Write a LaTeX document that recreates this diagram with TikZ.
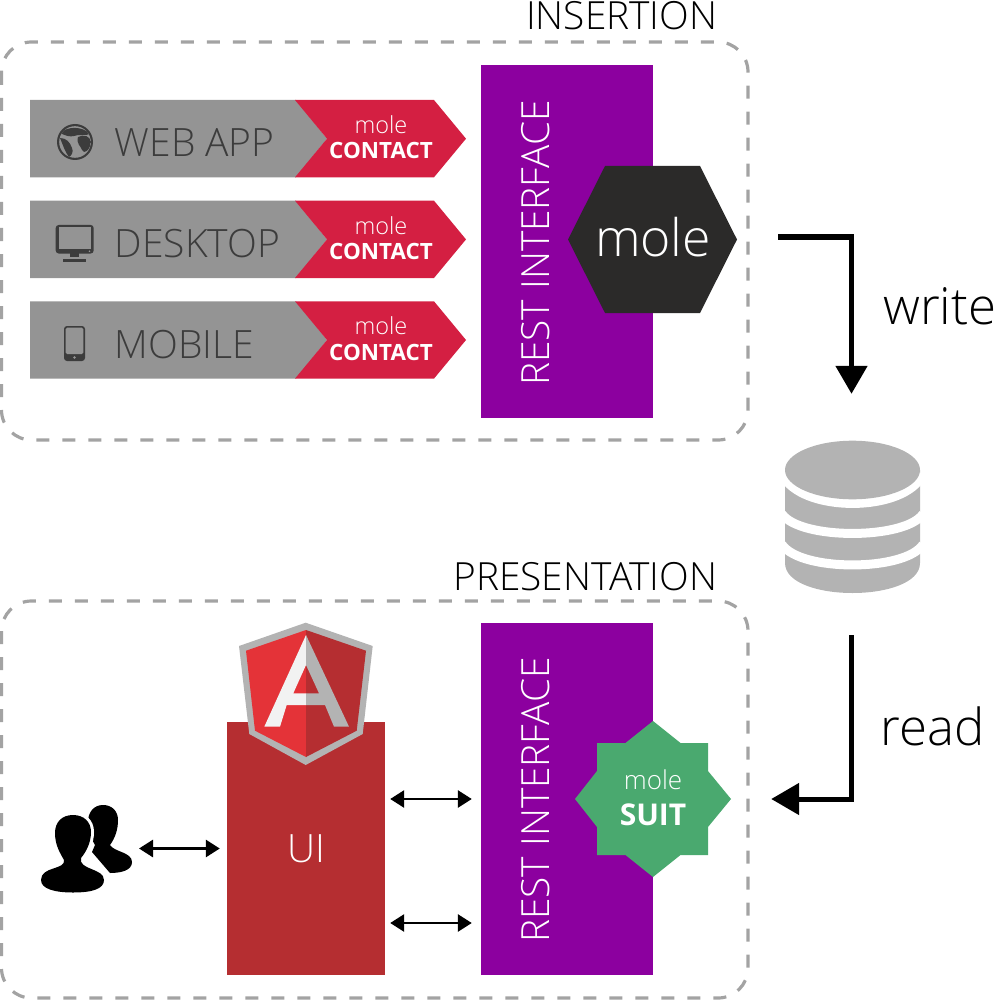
\documentclass[tikz,border=0pt]{standalone}
\usepackage{fontspec}
\setmainfont{Open Sans}[UprightFont=* Light,BoldFont=* Bold]
\usetikzlibrary{arrows.meta,calc}
\definecolor{bargray}{HTML}{949494}
\definecolor{icondark}{HTML}{3C3C3C}
\definecolor{contactred}{HTML}{D41F42}
\definecolor{restpurple}{HTML}{8C009F}
\definecolor{hexblack}{HTML}{2B2A29}
\definecolor{suitgreen}{HTML}{4AA96F}
\definecolor{uired}{HTML}{B52E31}
\definecolor{ngred}{HTML}{E43338}
\definecolor{nggray}{HTML}{B3B3B3}
\definecolor{ngwhite}{HTML}{F2F2F2}
\definecolor{dbgray}{HTML}{B3B3B3}
\definecolor{dashgray}{HTML}{A3A3A3}
\newcommand{\fs}[1]{\fontsize{#1}{#1}\selectfont}
\tikzset{
  panel/.style={draw=dashgray,line width=3.2pt,dash pattern=on 13pt off 13pt,rounded corners=30pt},
  title/.style={anchor=base east,inner sep=0pt,text=black,font=\fs{38.8}},
  barlabel/.style={anchor=base west,inner sep=0pt,text=icondark,font=\fs{39}},
  restbox/.style={fill=restpurple,draw=none,minimum width=172pt,minimum height=352pt,inner sep=0pt},
  resttext/.style={rotate=90,text=white,inner sep=0pt,font=\fs{38.8}},
  contact/.style={align=center,text=white,inner sep=0pt},
  flow/.style={line width=5pt,-{Triangle[length=28pt,width=31pt]}},
  both/.style={line width=2.8pt,{Triangle[length=14pt,width=17pt]}-{Triangle[length=14pt,width=17pt]}},
  flowlabel/.style={anchor=base west,inner sep=0pt,text=black,font=\fs{51}}
}
\begin{document}
\begin{tikzpicture}[x=1pt,y=-1pt]
\useasboundingbox (0,0) rectangle (996,1000);
% panels
\draw[panel] (1.5,42) rectangle (748,440);
\draw[panel] (1.5,601) rectangle (748,998);
\node[title] (t1) at (717.5,30) {INSERTION};
\node[title] (t2) at (717.5,590) {PRESENTATION};
% rows
\foreach \n/\y/\lab/\lx in {a/100/WEB APP/114.5,b/200.7/DESKTOP/114.5,c/301.3/MOBILE/114.5}{
  \fill[bargray] (30,\y) -- (296,\y) -- (327,\y+38.7) -- (296,\y+77.3) -- (30,\y+77.3) -- cycle;
  \fill[contactred] (295,\y) -- (434,\y) -- (466,\y+38.7) -- (434,\y+77.3) -- (295,\y+77.3) -- (327,\y+38.7) -- cycle;
  \node[barlabel] (lab\n) at (\lx,\y+56.8) {\lab};
  \node[contact,anchor=base] (m\n) at (381,\y+33.5) {\fs{23.5}mole};
  \node[contact,anchor=base] (k\n) at (381,\y+59) {\fs{22.4}\textbf{CONTACT}};
}
% globe icon
\fill[icondark] (75,142) circle (18);
\begin{scope}
\clip (75,142) circle (15.8);
\fill[bargray] (58,125) rectangle (92,159);
\fill[icondark] (60,133) .. controls (68,126) and (82,126) .. (90,134) .. controls (86,136) and (78,134) .. (74,136) .. controls (70,137) and (66,136) .. (60,133) -- cycle;
\fill[icondark] (78,137) .. controls (84,134) and (90,136) .. (91,142) .. controls (90,150) and (84,155) .. (82,150) .. controls (81,146) and (76,144) .. (78,137) -- cycle;
\fill[icondark] (60,138) .. controls (66,138) and (70,142) .. (72,148) .. controls (74,152) and (71,156) .. (69,157) .. controls (65,152) and (63,145) .. (60,138) -- cycle;
\end{scope}
% desktop icon
\fill[icondark,rounded corners=3pt] (55.7,225) rectangle (93.7,253.5);
\fill[bargray] (58.5,227.5) rectangle (91,249);
\fill[icondark] (70,253) rectangle (79,257);
\fill[icondark] (63,259) rectangle (86,261.5);
\fill[bargray] (89.5,251.2) circle (0.9);
% mobile icon
\fill[icondark,rounded corners=3pt] (64,326) rectangle (85,361);
\fill[bargray,rounded corners=1.5pt] (65.6,327.7) rectangle (83.4,354);
\fill[bargray] (74.5,357.5) circle (1.3);
% rest upper
\node[restbox] (rest1) at (567,241.5) {};
\node[resttext] (rt1) at (536,243) {REST INTERFACE};
\fill[hexblack] (568,239.5) -- (605,166) -- (700,166) -- (737,239.5) -- (700,313) -- (605,313) -- cycle;
\node[text=white,inner sep=0pt,font=\fs{51.7}] (mole) at (653,237.5) {mole};
% write
\coordinate (wstart) at (778,237);
\node[minimum width=135pt,minimum height=152pt,inner sep=0pt] (db) at (851.5,517) {};
\draw[flow,shorten >=47pt] (wstart) -| (db.north);
\node[flowlabel] (write) at (883,324) {write};
% database
\fill[dbgray] (785,470) -- (785,563) .. controls (785,603) and (920,603) .. (920,563) -- (920,470) -- cycle;
\foreach \c/\r in {474/29.5,514/19.5,544.5/20.5}
  \draw[white,line width=9pt] (782,\c) .. controls (800,\c+\r*1.33) and (905,\c+\r*1.33) .. (923,\c);
\fill[dbgray] (852.5,470) ellipse [x radius=67.5,y radius=29.3];
% read
\node[flowlabel] (read) at (880.5,745) {read};
% lower rest
\node[restbox] (rest2) at (567,799) {};
\node[resttext] (rt2) at (536,800) {REST INTERFACE};
\node[minimum width=156pt,minimum height=156pt,inner sep=0pt] (star) at (653,799) {};
\fill[suitgreen] (653,721) -- (680.5,743) -- (708,743) -- (708,771) -- (731,799) -- (708,827) -- (708,855) -- (680.5,855) -- (653,877) -- (625.5,855) -- (597,855) -- (597,827) -- (575,799) -- (597,771) -- (597,743) -- (625.5,743) -- cycle;
\node[contact,anchor=base] (sm) at (653,789) {\fs{26}mole};
\node[contact,anchor=base] (ss) at (653,825) {\fs{30}\textbf{SUIT}};
\draw[flow,shorten <=42pt,shorten >=40pt] (db.south) |- (star.east);
% UI
\node[fill=uired,minimum width=158pt,minimum height=253pt,inner sep=0pt,text=white,font=\fs{39}] (ui) at (306,848.5) {UI};
% angular logo
\fill[nggray] (305.7,622.7) -- (372.7,646) -- (362.7,734) -- (305.7,765) -- (249.3,734) -- (239,646) -- cycle;
\fill[ngred] (306,630) -- (246,650.7) -- (255,730.7) -- (306,757) -- cycle;
\fill[uired] (306,630) -- (366,650.7) -- (356.7,730.7) -- (306,757) -- cycle;
\fill[ngwhite] (306,635) -- (264.3,726.7) -- (280,726.7) -- (286.7,705) -- (306,705) -- (306,693.3) -- (293.3,693.3) -- (306,665) -- cycle;
\fill[nggray] (306,635) -- (349,726.7) -- (334,726.7) -- (325,705) -- (306,705) -- (306,693.3) -- (319,693.3) -- (306,665) -- cycle;
% people
\fill[black] (103,805) .. controls (94,805) and (88,812) .. (88,822) .. controls (88,832) and (92,840) .. (95,845) -- (92,852) -- (110,873) .. controls (122,873) and (132,870) .. (132,862) .. controls (132,852) and (114,852) .. (110,845) .. controls (115,838) and (118,830) .. (118,820) .. controls (118,811) and (112,805) .. (103,805) -- cycle;
\fill[black,preaction={draw=white,line width=6pt}] (73,815) .. controls (62,815) and (55,822) .. (55,833) .. controls (55,845) and (60,853) .. (64,860) .. controls (66,870) and (41,866) .. (41,880) .. controls (41,889) and (55,892.5) .. (73,892.5) .. controls (92,892.5) and (104,889) .. (104,880) .. controls (104,868) and (78,870) .. (81,858) .. controls (86,852) and (91,843) .. (91,832) .. controls (91,822) and (84,815) .. (73,815) -- cycle;
\coordinate (people) at (139,848.5);
\draw[both,shorten >=7pt] (people) -- (ui.west);
\draw[both,shorten <=5pt,shorten >=9pt] ([yshift=49.5pt]ui.east) -- ([yshift=49.5pt]ui.east -| rest2.west);
\draw[both,shorten <=5pt,shorten >=9pt] ([yshift=-74.5pt]ui.east) -- ([yshift=-74.5pt]ui.east -| rest2.west);
\end{tikzpicture}
\end{document}
